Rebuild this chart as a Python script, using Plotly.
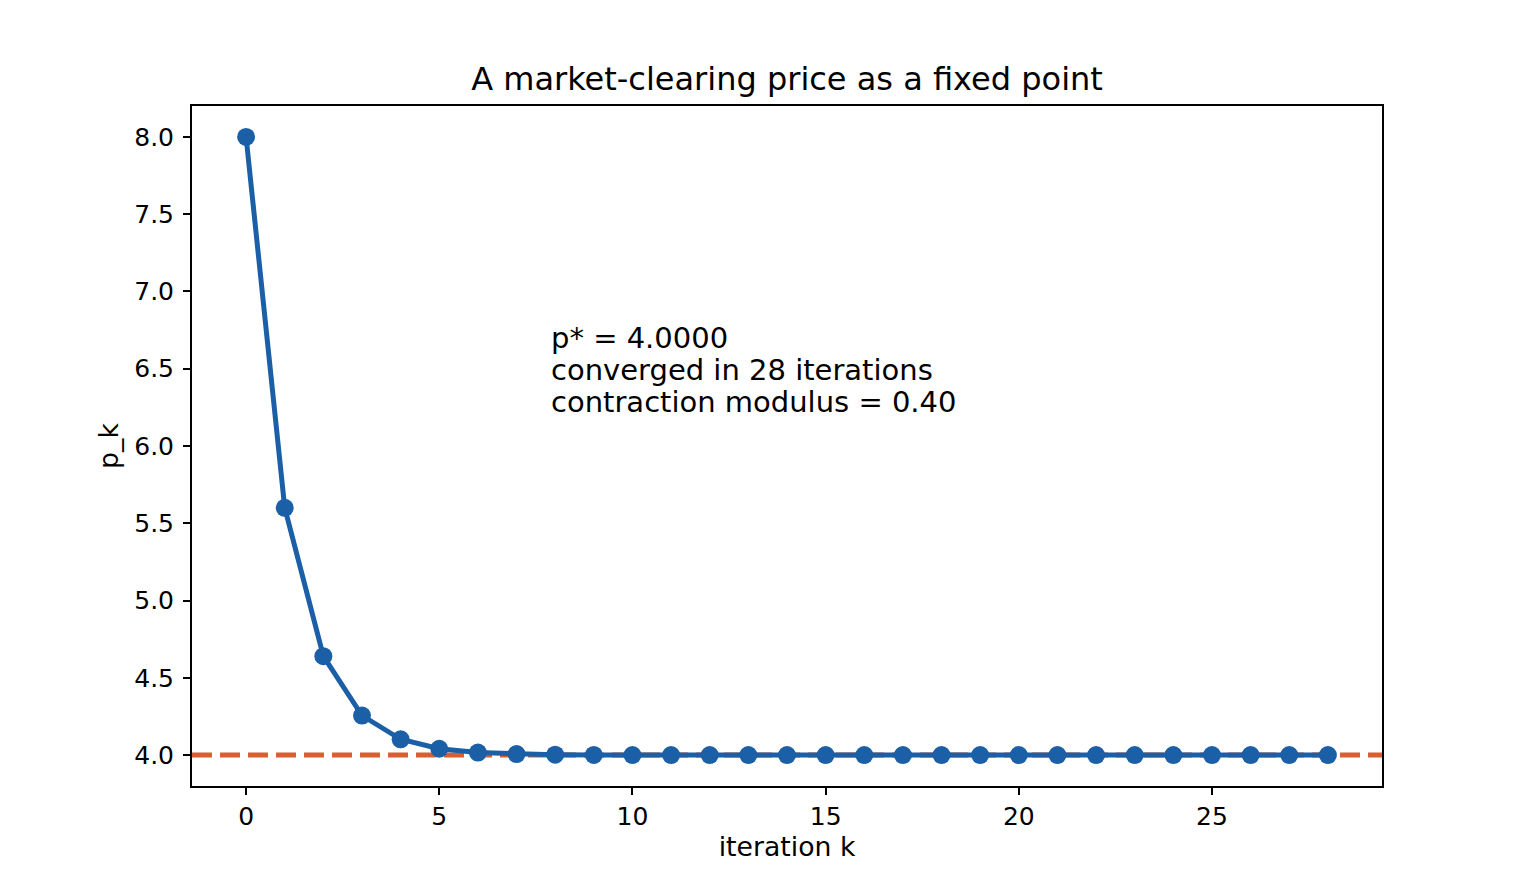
import plotly.graph_objects as go

# iterates of the price map p_{k+1} = T(p_k)
k = list(range(29))
p_k = [8.0, 5.6, 4.64, 4.256, 4.1024, 4.041, 4.0164, 4.0066, 4.0026, 4.001,
       4.0004, 4.0002, 4.0001, 4.0, 4.0, 4.0, 4.0, 4.0, 4.0, 4.0,
       4.0, 4.0, 4.0, 4.0, 4.0, 4.0, 4.0, 4.0, 4.0]
p_star = 4.0
n_iter = 28
modulus = 0.40

x_ticks = [0, 5, 10, 15, 20, 25]
y_ticks = [4.0, 4.5, 5.0, 5.5, 6.0, 6.5, 7.0, 7.5, 8.0]

blue = "#1b5fa6"
orange = "#d65f33"

fig = go.Figure()

# fixed point p* as a dashed horizontal line across the whole axes
fig.add_shape(type="line", xref="paper", yref="y", x0=0, x1=1, y0=p_star, y1=p_star,
              line=dict(color=orange, width=5, dash="20px,8px"), layer="below")

fig.add_trace(go.Scatter(
    x=k, y=p_k, mode="lines+markers",
    line=dict(color=blue, width=5),
    marker=dict(color=blue, size=18),
    showlegend=False,
))

# info box, one annotation per line so the spacing matches
info_lines = [
    f"p* = {p_star:.4f}",
    f"converged in {n_iter} iterations",
    f"contraction modulus = {modulus:.2f}",
]
for i, line in enumerate(info_lines):
    fig.add_annotation(
        xref="paper", yref="paper", x=0.3, y=0.6588 - i * 0.0471,
        xanchor="left", yanchor="middle", showarrow=False,
        text=line, font=dict(size=29, color="black"),
    )

axis_style = dict(
    showline=True, linecolor="black", linewidth=2, mirror=True,
    ticks="outside", ticklen=7, tickwidth=2, tickcolor="black",
    showgrid=False, zeroline=False,
    tickfont=dict(size=25, color="black"),
)

fig.update_layout(
    width=1536, height=883,
    margin=dict(l=184, r=162, t=98, b=105),
    paper_bgcolor="white", plot_bgcolor="white",
    font=dict(family="DejaVu Sans", color="black"),
    title=dict(text="A market-clearing price as a fixed point", x=0.5, xref="paper",
               y=1 - 71 / 883, yref="container", yanchor="middle",
               font=dict(size=32, color="black")),
    xaxis=dict(range=[-1.4, 29.4], tickvals=x_ticks,
               title=dict(text="iteration k", font=dict(size=26.7), standoff=6), **axis_style),
    yaxis=dict(range=[3.8, 8.2], tickvals=y_ticks, tickformat=".1f", ticklabelstandoff=4,
               title=dict(text="p_k", font=dict(size=26.7), standoff=8), **axis_style),
)

fig.write_html("out.html")
